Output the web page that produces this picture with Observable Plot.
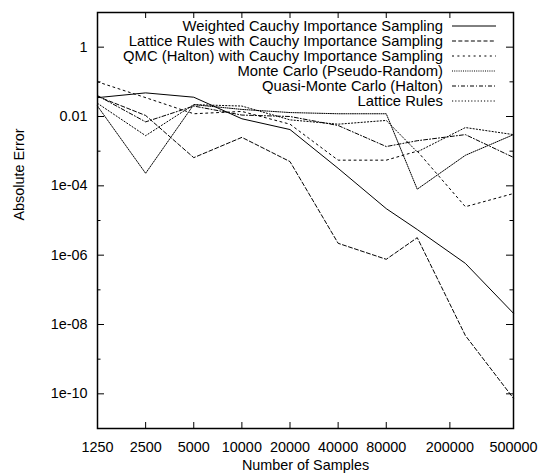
<!DOCTYPE html>
<html><head><meta charset="utf-8">
<script src="https://cdn.jsdelivr.net/npm/d3@7"></script>
<script src="https://cdn.jsdelivr.net/npm/@observablehq/plot@0.6"></script>
<style>body{margin:0;background:#fff;} #chart svg{display:block;}</style>
</head><body><div id="chart"></div>
<script>
const samples = [1250, 2500, 5000, 10000, 20000, 40000, 80000, 125000, 250000, 500000];
const weightedCauchy = [0.035, 0.048, 0.036, 0.0086, 0.0042, 3.2e-4, 2.2e-5, 5.5e-6, 5.8e-7, 2.1e-8];
const latticeCauchy = [0.038, 0.0107, 6.5e-4, 2.5e-3, 5e-4, 2.2e-6, 7.6e-7, 3.2e-6, 4.8e-9, 7.4e-11];
const qmcCauchy = [0.1, 0.035, 0.012, 0.014, 0.006, 5.5e-4, 5.5e-4, 1e-3, 2.5e-5, 6e-5];
const monteCarlo = [0.02, 2.3e-4, 0.022, 0.016, 0.013, 0.012, 0.012, 8e-5, 7.6e-4, 3e-3];
const quasiMC = [0.04, 0.007, 0.02, 0.011, 0.01, 0.0055, 0.00136, 0.002, 0.003, 6.6e-4];
const latticeRules = [0.024, 2.8e-3, 0.022, 0.02, 0.008, 0.006, 0.0077, 9.5e-4, 4.8e-3, 3e-3];

const seriesNames = ["Weighted Cauchy Importance Sampling", "Lattice Rules with Cauchy Importance Sampling",
  "QMC (Halton) with Cauchy Importance Sampling", "Monte Carlo (Pseudo-Random)", "Quasi-Monte Carlo (Halton)", "Lattice Rules"];
const seriesValues = [weightedCauchy, latticeCauchy, qmcCauchy, monteCarlo, quasiMC, latticeRules];
const dashes = [null, "4,2.3", "2,3.4", "1,1.2", "4,2,1,2", "1.2,2"];

const xTicks = [1250, 2500, 5000, 10000, 20000, 40000, 80000, 200000, 500000];
const xTickLabels = ["1250", "2500", "5000", "10000", "20000", "40000", "80000", "200000", "500000"];
const yTicks = [1e-10, 1e-8, 1e-6, 1e-4, 1e-2, 1];
const yTickLabels = ["1e-10", "1e-08", "1e-06", "1e-04", "0.01", "1"];
const yMinorTicks = [1e-9, 1e-7, 1e-5, 1e-3, 1e-1];

const W = 539, H = 474, mL = 97, mR = 26, mT = 12, mB = 46;
const innerH = H - mT - mB, innerW = W - mL - mR;
const font = "'Liberation Sans', Arial, Helvetica, sans-serif";

const marks = [];
seriesValues.forEach((vals, i) => {
  const data = samples.map((x, j) => ({x, y: vals[j]}));
  marks.push(Plot.line(data, {x: "x", y: "y", stroke: "black", strokeWidth: 1, strokeDasharray: dashes[i], strokeLinejoin: "miter"}));
});
// inward ticks on all four sides
marks.push(Plot.ruleX(xTicks, {x: d => d, insetTop: innerH - 6, stroke: "black"}));
marks.push(Plot.ruleX(xTicks, {x: d => d, insetBottom: innerH - 6, stroke: "black"}));
marks.push(Plot.ruleY(yTicks, {y: d => d, insetRight: innerW - 7, stroke: "black"}));
marks.push(Plot.ruleY(yTicks, {y: d => d, insetLeft: innerW - 7, stroke: "black"}));
marks.push(Plot.ruleY(yMinorTicks, {y: d => d, insetRight: innerW - 3.5, stroke: "black"}));
marks.push(Plot.ruleY(yMinorTicks, {y: d => d, insetLeft: innerW - 3.5, stroke: "black"}));
marks.push(Plot.frame({stroke: "black", strokeWidth: 1.5}));
// tick labels
marks.push(Plot.text(xTicks, {x: d => d, text: (d, i) => xTickLabels[i], frameAnchor: "bottom", dy: 23, fontSize: 14.4, fill: "black"}));
marks.push(Plot.text(yTicks, {y: d => d, text: (d, i) => yTickLabels[i], frameAnchor: "left", textAnchor: "end", dx: -10, fontSize: 14.4, fill: "black"}));
// axis titles
marks.push(Plot.text(["Number of Samples"], {text: d => d, frameAnchor: "bottom", dy: 41, fontSize: 14.4, fill: "black"}));
marks.push(Plot.text(["Absolute Error"], {text: d => d, frameAnchor: "left", dx: -78, rotate: -90, fontSize: 14.4, fill: "black"}));

const chart = Plot.plot({
  width: W, height: H,
  marginLeft: mL, marginRight: mR, marginTop: mT, marginBottom: mB,
  style: {fontFamily: font, fontSize: "14.4px", color: "black", background: "white"},
  x: {type: "log", domain: [1250, 500000], axis: null},
  y: {type: "log", domain: [1e-11, 10], axis: null},
  marks
});
document.getElementById("chart").appendChild(chart);

// legend (top-right, inside frame)
const svg = d3.select(chart);
const lg = svg.append("g").attr("font-family", font).attr("font-size", 14.8);
seriesNames.forEach((name, i) => {
  const cy = 26 + i * 15;
  lg.append("text").attr("x", 443).attr("y", cy).attr("dy", "0.35em").attr("text-anchor", "end").attr("fill", "black").text(name);
  lg.append("line").attr("x1", 452).attr("x2", 496).attr("y1", cy).attr("y2", cy)
    .attr("stroke", "black").attr("stroke-width", 1).attr("stroke-dasharray", dashes[i]);
});
</script></body></html>
